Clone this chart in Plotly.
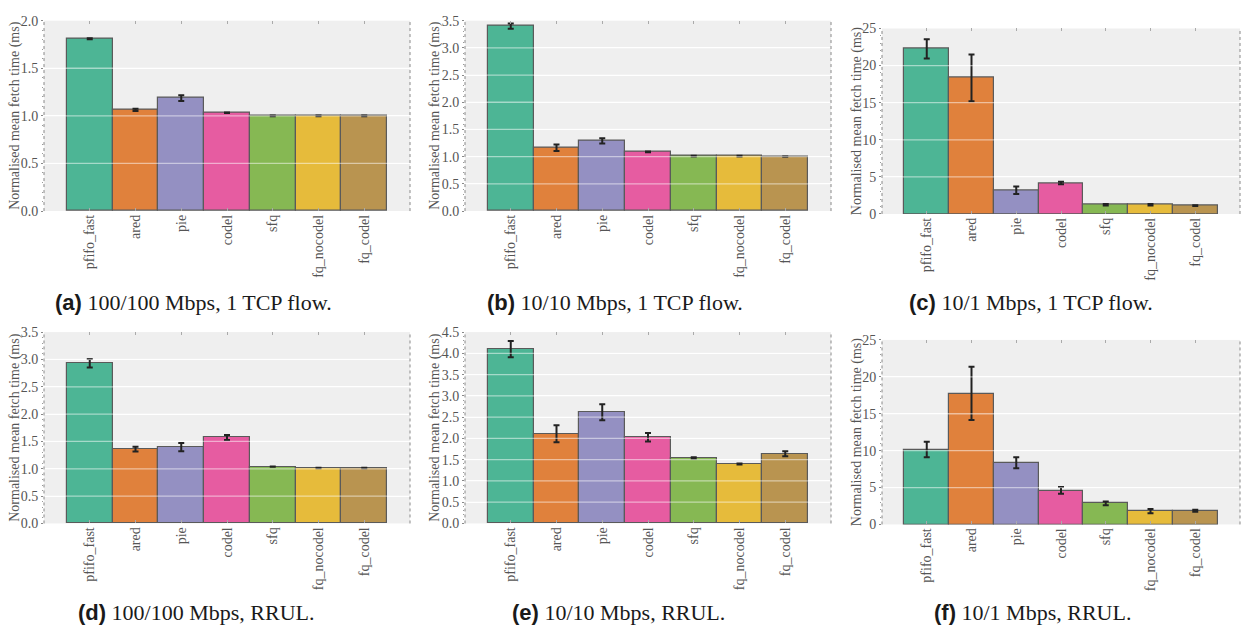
import plotly.graph_objects as go

W, H = 1244, 633

categories = ["pfifo_fast", "ared", "pie", "codel", "sfq", "fq_nocodel", "fq_codel"]
bar_colors = ["#4db595", "#e0813c", "#9490c2", "#e65ca1", "#86b853", "#e6bb3b", "#b99450"]

# (a) 100/100 Mbps, 1 TCP flow
a_vals = [1.81, 1.063, 1.186, 1.032, 1.0, 1.0, 1.0]
a_errs = [0.005, 0.012, 0.03, 0.003, 0.003, 0.003, 0.003]
# (b) 10/10 Mbps, 1 TCP flow
b_vals = [3.40, 1.165, 1.29, 1.087, 1.01, 1.01, 1.0]
b_errs = [0.05, 0.06, 0.05, 0.006, 0.006, 0.006, 0.004]
# (c) 10/1 Mbps, 1 TCP flow
c_vals = [22.24, 18.33, 3.2, 4.17, 1.23, 1.23, 1.14]
c_errs = [1.3, 3.15, 0.5, 0.18, 0.1, 0.1, 0.05]
# (d) 100/100 Mbps, RRUL
d_vals = [2.93, 1.36, 1.395, 1.572, 1.04, 1.014, 1.014]
d_errs = [0.078, 0.045, 0.075, 0.045, 0.004, 0.004, 0.004]
# (e) 10/10 Mbps, RRUL
e_vals = [4.10, 2.11, 2.615, 2.025, 1.54, 1.40, 1.64]
e_errs = [0.19, 0.2, 0.19, 0.1, 0.02, 0.012, 0.06]
# (f) 10/1 Mbps, RRUL
f_vals = [10.15, 17.75, 8.35, 4.61, 2.86, 1.8, 1.85]
f_errs = [1.05, 3.6, 0.75, 0.46, 0.26, 0.3, 0.13]

# y tick values per panel
ticks_2 = [0.0, 0.5, 1.0, 1.5, 2.0]
ticks_35 = [0.0, 0.5, 1.0, 1.5, 2.0, 2.5, 3.0, 3.5]
ticks_45 = [0.0, 0.5, 1.0, 1.5, 2.0, 2.5, 3.0, 3.5, 4.0, 4.5]
ticks_25 = [0, 5, 10, 15, 20, 25]

y_title = "Normalised mean fetch time (ms)"

panels = [
    dict(v=a_vals, e=a_errs, ticks=ticks_2, minor=0.1, lab="(a)", cap="100/100 Mbps, 1 TCP flow.",
         box=(44, 410, 14, 209), ytx=15, capx=193, capy=303, tickfmt=".1f"),
    dict(v=b_vals, e=b_errs, ticks=ticks_35, minor=0.1, lab="(b)", cap="10/10 Mbps, 1 TCP flow.",
         box=(465, 831, 14, 209), ytx=435, capx=615, capy=303, tickfmt=".1f"),
    dict(v=c_vals, e=c_errs, ticks=ticks_25, minor=1, lab="(c)", cap="10/1 Mbps, 1 TCP flow.",
         box=(882, 1240, 22, 212), ytx=857, capx=1031, capy=303, tickfmt="d"),
    dict(v=d_vals, e=d_errs, ticks=ticks_35, minor=0.1, lab="(d)", cap="100/100 Mbps, RRUL.",
         box=(44, 410, 333, 529), ytx=15, capx=196, capy=620, tickfmt=".1f"),
    dict(v=e_vals, e=e_errs, ticks=ticks_45, minor=0.1, lab="(e)", cap="10/10 Mbps, RRUL.",
         box=(465, 831, 333, 529), ytx=435, capx=618, capy=620, tickfmt=".1f"),
    dict(v=f_vals, e=f_errs, ticks=ticks_25, minor=1, lab="(f)", cap="10/1 Mbps, RRUL.",
         box=(882, 1240, 341, 530), ytx=857, capx=1032, capy=620, tickfmt="d"),
]

SERIF = "'Liberation Serif', 'Times New Roman', Times, 'DejaVu Serif', serif"
TICKCOL = "#555555"

fig = go.Figure()
layout = dict(
    width=W, height=H, margin=dict(l=0, r=0, t=0, b=0),
    paper_bgcolor="white", plot_bgcolor="#efefef",
    showlegend=False, bargap=0,
    font=dict(family=SERIF, size=12, color=TICKCOL),
)
annotations = []
shapes = []

for i, p in enumerate(panels):
    n = "" if i == 0 else str(i + 1)
    xa, ya = "x" + n, "y" + n
    x0, x1, yt, yb = p["box"]
    fig.add_trace(go.Bar(
        x=categories, y=p["v"], xaxis=xa, yaxis=ya,
        marker=dict(color=bar_colors, line=dict(color="#5a5a5a", width=1.2)),
        error_y=dict(type="data", array=p["e"], color="#222222", thickness=2, width=3),
        hoverinfo="x+y",
    ))
    layout["xaxis" + n] = dict(
        domain=[x0 / W, x1 / W], anchor=ya, range=[-1, 7],
        type="category", tickangle=-90,
        tickfont=dict(family=SERIF, size=14, color=TICKCOL),
        showgrid=False, zeroline=False, showline=False,
        ticks="inside", ticklen=3, tickcolor="#aaaaaa", mirror="ticks",
    )
    layout["yaxis" + n] = dict(
        domain=[1 - yb / H, 1 - yt / H], anchor=xa, range=[p["ticks"][0], p["ticks"][-1]],
        tickvals=p["ticks"], tickformat=p["tickfmt"],
        tickfont=dict(family=SERIF, size=14, color=TICKCOL),
        showgrid=True, gridcolor="white", gridwidth=1.3,
        zeroline=False, showline=False,
        ticks="outside", ticklen=2, tickcolor="#888888",
        minor=dict(dtick=p["minor"], tick0=0, ticks="outside", ticklen=1.5, tickcolor="#999999", showgrid=False),
    )
    # faint gridlines showing through the bars
    for tv in p["ticks"][1:-1]:
        shapes.append(dict(
            type="line", xref=xa + " domain", yref=ya, x0=0, x1=1, y0=tv, y1=tv,
            line=dict(color="white", width=1.3), opacity=0.5, layer="above",
        ))
    annotations.append(dict(
        text=y_title, textangle=-90, xref="paper", yref="paper",
        x=p["ytx"] / W, y=1 - (yt + yb) / 2 / H, xanchor="center", yanchor="middle",
        showarrow=False, font=dict(family=SERIF, size=14, color=TICKCOL),
    ))
    annotations.append(dict(
        text=f'<span style="font-family:Liberation Sans, Arial, sans-serif;font-weight:bold">{p["lab"]}</span> {p["cap"]}',
        xref="paper", yref="paper", x=p["capx"] / W, y=1 - p["capy"] / H,
        xanchor="center", yanchor="middle", showarrow=False,
        font=dict(family=SERIF, size=22, color="#1a1a1a"),
    ))
    for xe in (x0, x1):
        shapes.append(dict(
            type="line", xref="paper", yref="paper",
            x0=xe / W, x1=xe / W, y0=1 - yb / H, y1=1 - yt / H,
            line=dict(color="#888888", width=1, dash="dot"), layer="above",
        ))

layout["annotations"] = annotations
layout["shapes"] = shapes
fig.update_layout(**layout)
fig.write_html("out.html", config={"displayModeBar": False},
               post_script="document.body.style.margin='0';")
